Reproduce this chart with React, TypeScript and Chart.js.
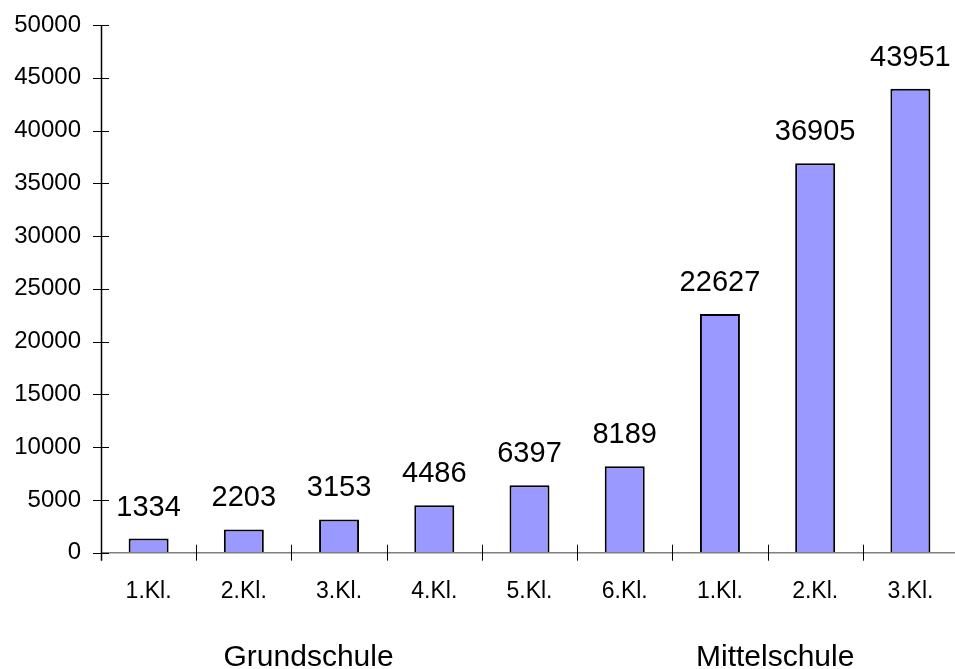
import React, { useEffect, useRef } from "react";
import { Chart, registerables } from "chart.js";

Chart.register(...registerables);

// Schüler je Klassenstufe
const categories = ["1.Kl.", "2.Kl.", "3.Kl.", "4.Kl.", "5.Kl.", "6.Kl.", "1.Kl.", "2.Kl.", "3.Kl."];
const values = [1334, 2203, 3153, 4486, 6397, 8189, 22627, 36905, 43951];
const groupLabels = ["Grundschule", "Mittelschule"];
const groupLabelIndex = [1.68, 6.58]; // horizontal anchor on the category scale
const yMax = 50000;
const yStep = 5000;

const FONT = "'Liberation Sans', Arial, sans-serif";

const axisPlugin = {
  id: "excelAxes",
  afterDatasetsDraw(chart: any) {
    const { ctx, chartArea, scales } = chart;
    const x = scales.x;
    const y = scales.y;
    ctx.save();
    // x axis line
    ctx.strokeStyle = "#808080";
    ctx.lineWidth = 1.5;
    const y0 = y.getPixelForValue(0);
    ctx.beginPath();
    ctx.moveTo(chartArea.left, y0);
    ctx.lineTo(chartArea.right + 5, y0);
    ctx.stroke();
    // x ticks between categories
    ctx.strokeStyle = "#000";
    ctx.lineWidth = 1;
    for (let i = 1; i < categories.length; i++) {
      const px = Math.round((x.getPixelForValue(i - 1) + x.getPixelForValue(i)) / 2) + 0.5;
      ctx.beginPath();
      ctx.moveTo(px, y0 - 8);
      ctx.lineTo(px, y0 + 8);
      ctx.stroke();
    }
    // y axis line
    ctx.lineWidth = 1.5;
    ctx.beginPath();
    ctx.moveTo(chartArea.left + 0.5, chartArea.top);
    ctx.lineTo(chartArea.left + 0.5, y0 + 8);
    ctx.stroke();
    // y ticks
    ctx.lineWidth = 1;
    for (let v = 0; v <= yMax; v += yStep) {
      const py = Math.round(y.getPixelForValue(v)) + 0.5;
      ctx.beginPath();
      ctx.moveTo(chartArea.left - 8, py);
      ctx.lineTo(chartArea.left + 8, py);
      ctx.stroke();
    }
    // value labels above bars
    ctx.fillStyle = "#000";
    ctx.font = `29px ${FONT}`;
    ctx.textAlign = "center";
    ctx.textBaseline = "alphabetic";
    const meta = chart.getDatasetMeta(0);
    meta.data.forEach((bar: any, i: number) => {
      ctx.fillText(String(values[i]), bar.x, bar.y - 23);
    });
    // school type labels
    ctx.font = `30px ${FONT}`;
    groupLabels.forEach((t, i) => {
      ctx.fillText(t, x.getPixelForValue(groupLabelIndex[i]), 666);
    });
    ctx.restore();
  },
};

export default function App() {
  const ref = useRef<HTMLCanvasElement | null>(null);

  useEffect(() => {
    if (!ref.current) return;
    const chart = new Chart(ref.current, {
      type: "bar",
      data: {
        labels: categories,
        datasets: [
          {
            data: values,
            backgroundColor: "#9999FF",
            borderColor: "#000",
            borderWidth: 2,
            categoryPercentage: 1,
            barPercentage: 0.42,
          },
        ],
      },
      options: {
        responsive: false,
        animation: false,
        events: [],
        layout: { padding: { top: 25, left: 0, right: 0, bottom: 0 } },
        plugins: { legend: { display: false }, tooltip: { enabled: false } },
        scales: {
          x: {
            border: { display: false },
            grid: { display: false, drawTicks: false },
            ticks: {
              color: "#000",
              font: { family: FONT, size: 23 },
              padding: 25,
              maxRotation: 0,
              autoSkip: false,
            },
            afterFit(scale: any) {
              scale.height = 116.3;
              scale.paddingLeft = 0;
              scale.paddingRight = 0;
            },
          },
          y: {
            min: 0,
            max: yMax,
            border: { display: false },
            grid: { display: false, drawTicks: false },
            ticks: {
              stepSize: yStep,
              color: "#000",
              font: { family: FONT, size: 24 },
              padding: 20,
              callback: (v: any) => String(v),
            },
            afterFit(scale: any) {
              scale.width = 101;
              scale.paddingTop = 0;
              scale.paddingBottom = 0;
            },
          },
        },
      },
      plugins: [axisPlugin],
    });
    return () => chart.destroy();
  }, []);

  return (
    <div style={{ position: "fixed", left: 0, top: 0, width: 955, height: 669, overflow: "hidden", background: "#fff" }}>
      <canvas ref={ref} width={958} height={669} style={{ display: "block" }} />
    </div>
  );
}
